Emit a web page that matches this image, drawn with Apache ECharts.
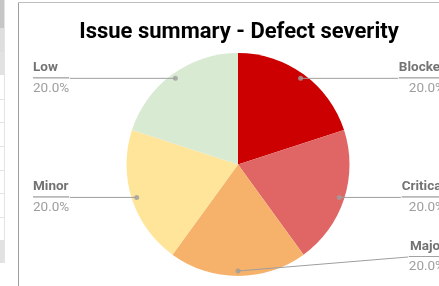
<!DOCTYPE html>
<html>
<head>
<meta charset="utf-8">
<script src="https://cdn.jsdelivr.net/npm/echarts@6/dist/echarts.min.js"></script>
<style>
  html, body { margin: 0; padding: 0; background: #fff; }
  #chart { width: 439px; height: 286px; }
</style>
</head>
<body>
<div id="chart"></div>
<script>
// chart data
var titleText = 'Issue summary - Defect severity';
var categories = ['Blocker', 'Critical', 'Major', 'Minor', 'Low'];
var counts = [1, 1, 1, 1, 1];
var colors = ['#cc0000', '#e06666', '#f6b26b', '#ffe599', '#d9ead3'];

// pie geometry (pixels)
var cx = 238, cy = 164.5, r = 111.5, dotR = 106.5;
var labelBottom = 275; // lowest label must stay above this

var pieData = categories.map(function (name, i) {
  return { name: name, value: counts[i], itemStyle: { color: colors[i] } };
});

// middle angle of each slice, used for the small dots where the leader lines start
var total = counts.reduce(function (a, b) { return a + b; }, 0);
var acc = 0;
var dots = counts.map(function (v) {
  var mid = (acc + v / 2) / total * 360;
  acc += v;
  return [dotR, mid];
});

var chart = echarts.init(document.getElementById('chart'));

var option = {
  animation: false,
  textStyle: { fontFamily: 'Roboto' },
  title: {
    text: titleText,
    left: cx - 4,
    top: 16,
    textAlign: 'center',
    textStyle: { fontFamily: 'Roboto', fontWeight: 'bold', fontSize: 22, color: '#000' }
  },
  // spreadsheet bits around the chart frame
  graphic: [
    { type: 'rect', shape: { x: 0, y: 0, width: 4, height: 28 }, style: { fill: '#c6c6c6' } },
    { type: 'rect', shape: { x: 0, y: 28, width: 4, height: 24 }, style: { fill: '#dedede' } },
    { type: 'rect', shape: { x: 0, y: 52, width: 4, height: 23 }, style: { fill: '#e2e2e2' } },
    { type: 'rect', shape: { x: 0, y: 240, width: 4, height: 23 }, style: { fill: '#e2e2e2' } },
    { type: 'line', shape: { x1: 4.5, y1: 0, x2: 4.5, y2: 263 }, style: { stroke: '#e4e4e4', lineWidth: 1 } },
    { type: 'line', shape: { x1: 0, y1: 99.5, x2: 4, y2: 99.5 }, style: { stroke: '#e4e4e4', lineWidth: 1 } },
    { type: 'line', shape: { x1: 0, y1: 122.5, x2: 4, y2: 122.5 }, style: { stroke: '#e4e4e4', lineWidth: 1 } },
    { type: 'line', shape: { x1: 0, y1: 146.5, x2: 4, y2: 146.5 }, style: { stroke: '#e4e4e4', lineWidth: 1 } },
    { type: 'line', shape: { x1: 0, y1: 170.5, x2: 4, y2: 170.5 }, style: { stroke: '#e4e4e4', lineWidth: 1 } },
    { type: 'line', shape: { x1: 0, y1: 193.5, x2: 4, y2: 193.5 }, style: { stroke: '#e4e4e4', lineWidth: 1 } },
    { type: 'line', shape: { x1: 0, y1: 217.5, x2: 4, y2: 217.5 }, style: { stroke: '#e4e4e4', lineWidth: 1 } },
    { type: 'line', shape: { x1: 18.5, y1: 2.5, x2: 18.5, y2: 286 }, style: { stroke: '#9e9e9e', lineWidth: 1 } },
    { type: 'line', shape: { x1: 18.5, y1: 2.5, x2: 439, y2: 2.5 }, style: { stroke: '#bdbdbd', lineWidth: 1 } }
  ],
  polar: { center: [cx, cy], radius: r },
  angleAxis: { type: 'value', min: 0, max: 360, startAngle: 90, clockwise: true, show: false },
  radiusAxis: { type: 'value', min: 0, max: r, show: false },
  series: [
    {
      type: 'pie',
      center: [cx, cy],
      radius: r,
      silent: true,
      label: { show: false },
      labelLine: { show: false },
      data: pieData
    },
    {
      // transparent copy that carries the labels and leader lines
      type: 'pie',
      center: [cx, cy],
      radius: dotR,
      left: 0,
      top: 0,
      right: -39,
      bottom: 286 - labelBottom,
      silent: true,
      z: 3,
      itemStyle: { color: 'rgba(0,0,0,0)' },
      data: categories.map(function (name, i) { return { name: name, value: counts[i] }; }),
      label: {
        show: true,
        position: 'outer',
        alignTo: 'edge',
        edgeDistance: 33,
        distanceToLabelLine: 0,
        formatter: function (p) {
          return '{name|' + p.name + '}\n{hr|}\n{pct|' + p.percent.toFixed(1) + '%}';
        },
        rich: {
          name: { fontFamily: 'Roboto', fontSize: 13.5, fontWeight: 'bold', color: '#737373', lineHeight: 20 },
          hr: { borderColor: '#9e9e9e', borderWidth: 0.8, width: '100%', height: 0, lineHeight: 0 },
          pct: { fontFamily: 'Roboto', fontSize: 13.5, color: '#9e9e9e', lineHeight: 21 }
        }
      },
      labelLine: {
        show: true,
        length: 0,
        length2: 10,
        lineStyle: { color: '#9e9e9e', width: 1 }
      },
      // labels that fit keep the height of their slice point (straight leader);
      // only the one pushed up by the bottom edge keeps the bent leader
      labelLayout: function (p) {
        var pts = p.labelLinePoints;
        if (!pts) return {};
        var ay = pts[0][1];
        if (ay + p.labelRect.height / 2 > labelBottom) return {};
        return {
          y: ay,
          labelLinePoints: [pts[0], pts[0], [pts[2][0], ay]]
        };
      }
    },
    {
      type: 'scatter',
      coordinateSystem: 'polar',
      symbolSize: 5,
      silent: true,
      z: 4,
      itemStyle: { color: '#9e9e9e' },
      data: dots
    }
  ]
};

chart.setOption(option);
</script>
</body>
</html>
